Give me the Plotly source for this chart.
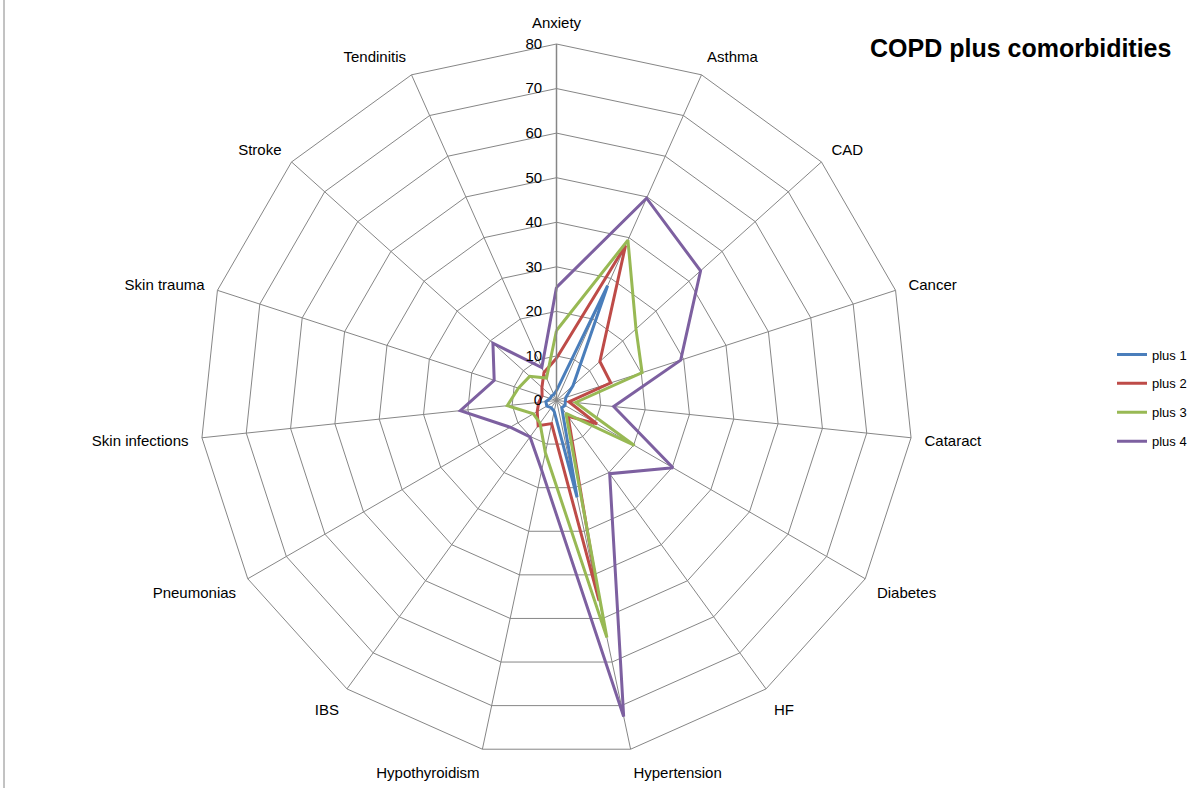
import plotly.graph_objects as go

categories = ["Anxiety", "Asthma", "CAD", "Cancer", "Cataract", "Diabetes", "HF",
              "Hypertension", "Hypothyroidism", "IBS", "Pneumonias", "Skin infections",
              "Skin trauma", "Stroke", "Tendinitis"]

plus1 = [2.2, 28.2, 5.0, 2.2, 2.0, 2.2, 2.0, 22.2, 2.5, 2.0, 2.5, 2.4, 1.5, 1.5, 1.5]
plus2 = [9.5, 38.1, 13.1, 12.8, 2.8, 10.5, 4.4, 45.9, 5.3, 7.0, 5.0, 4.0, 3.4, 4.4, 6.9]
plus3 = [15.7, 39.4, 24.0, 20.2, 4.3, 20.2, 3.6, 54.4, 12.0, 6.3, 6.0, 11.1, 9.0, 8.1, 5.5]
plus4 = [25.4, 49.7, 43.5, 29.3, 12.9, 30.2, 20.3, 72.5, 16.0, 10.1, 12.0, 21.7, 14.7, 19.2, 8.1]

series_names = ["plus 1", "plus 2", "plus 3", "plus 4"]
series_values = [plus1, plus2, plus3, plus4]
colors = ["#4A7EBB", "#BE4B48", "#98B954", "#7D60A0"]

fig = go.Figure()
for name, vals, col in zip(series_names, series_values, colors):
    fig.add_trace(go.Scatterpolar(
        r=vals + vals[:1],
        theta=categories + categories[:1],
        mode="lines",
        name=name,
        legendgroup=name,
        line=dict(color=col, width=3),
    ))

W, H = 1203, 788
cx, cy, R = 556.5, 400.5, 356.5
FONT = "Liberation Sans, Arial, sans-serif"

fig.update_layout(
    width=W, height=H,
    margin=dict(l=0, r=0, t=0, b=0),
    paper_bgcolor="white",
    plot_bgcolor="white",
    font=dict(family=FONT, size=13, color="#000000"),
    polar=dict(
        domain=dict(x=[(cx - R) / W, (cx + R) / W],
                    y=[(H - cy - R) / H, (H - cy + R) / H]),
        bgcolor="white",
        gridshape="linear",
        angularaxis=dict(
            direction="clockwise",
            rotation=90,
            type="category",
            categoryorder="array",
            categoryarray=categories,
            showline=True,
            linecolor="#868686",
            linewidth=1,
            gridcolor="#868686",
            gridwidth=1,
            ticks="outside",
            ticklen=10,
            tickcolor="rgba(0,0,0,0)",
            tickfont=dict(size=15, color="#000000", family=FONT),
        ),
        radialaxis=dict(
            range=[0, 80],
            dtick=10,
            angle=90,
            tickangle=90,
            side="counterclockwise",
            ticksuffix="\u00a0\u00a0",
            showline=True,
            linecolor="#868686",
            linewidth=1.5,
            gridcolor="#868686",
            gridwidth=1,
            ticks="",
            tickfont=dict(size=15, color="#000000", family=FONT),
        ),
    ),
    legend=dict(
        x=1112 / W, y=1 - 398 / H, xanchor="left", yanchor="middle",
        font=dict(size=13, color="#000000", family=FONT),
        bgcolor="rgba(0,0,0,0)",
        tracegroupgap=9,
    ),
    annotations=[dict(
        text="<b>COPD plus comorbidities</b>",
        x=1020 / W, y=1 - 48 / H, xref="paper", yref="paper",
        xanchor="center", yanchor="middle", showarrow=False,
        font=dict(size=25, family=FONT, color="#000000"),
    )],
    shapes=[dict(type="line", xref="paper", yref="paper",
                 x0=4 / W, x1=4 / W, y0=0, y1=1,
                 line=dict(color="#868686", width=1))],
)

fig.write_html("out.html", config={"displayModeBar": False},
               post_script="document.body.style.margin='0px';")
